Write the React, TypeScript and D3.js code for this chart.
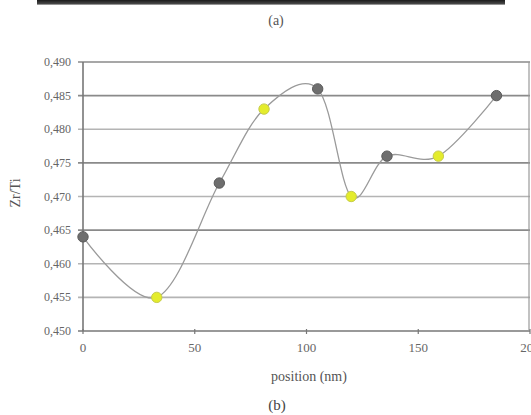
import React from "react";
import * as d3 from "d3";

const positions = [0, 33, 61, 81, 105, 120, 136, 159, 185];
const ratios = [0.464, 0.455, 0.472, 0.483, 0.486, 0.47, 0.476, 0.476, 0.485];
const markerKinds = ["gray", "yellow", "gray", "yellow", "gray", "yellow", "gray", "yellow", "gray"];
const yTicks = [0.45, 0.455, 0.46, 0.465, 0.47, 0.475, 0.48, 0.485, 0.49];
const xTicks = [0, 50, 100, 150, 200];
const xTitle = "position (nm)";
const yTitle = "Zr/Ti";
const captionA = "(a)";
const captionB = "(b)";

const W = 531;
const H = 415;
const m = { left: 83, right: 530, top: 62, bottom: 331 };

export default function App() {
  const x = d3.scaleLinear().domain([0, 200]).range([m.left, m.right]);
  const y = d3.scaleLinear().domain([0.45, 0.49]).range([m.bottom, m.top]);
  const data = positions.map((p, i) => ({ p, r: ratios[i], k: markerKinds[i] }));
  const line = d3
    .line<{ p: number; r: number }>()
    .x((d) => x(d.p))
    .y((d) => y(d.r))
    .curve(d3.curveCatmullRom.alpha(0));
  const fmt = (v: number) => v.toFixed(3).replace(".", ",");
  const gridColor = (i: number) =>
    [0, 3, 5, 7, 8].includes(i) ? "#8a8a8a" : "#b4b4b4";
  const font = "Liberation Serif, Times New Roman, serif";

  return (
    <svg
      width={W}
      height={H}
      style={{ position: "absolute", left: 0, top: 0, background: "#fff" }}
    >
      <defs>
        <linearGradient id="band" x1="0" y1="0" x2="0" y2="1">
          <stop offset="0" stopColor="#1a1a1a" />
          <stop offset="0.7" stopColor="#444" />
          <stop offset="1" stopColor="#bbb" />
        </linearGradient>
      </defs>
      <rect x={37} y={0} width={468} height={5} fill="url(#band)" />
      <text
        x={276}
        y={25}
        fontFamily={font}
        fontSize={14}
        textAnchor="middle"
        fill="#555"
      >
        {captionA}
      </text>

      {yTicks.map((t, i) => (
        <g key={t}>
          <line
            x1={m.left - 5}
            x2={m.right}
            y1={y(t)}
            y2={y(t)}
            stroke={i === 0 ? "#777" : gridColor(i)}
            strokeWidth={1.6}
          />
          <text
            x={71}
            y={y(t) + 4}
            fontFamily={font}
            fontSize={12}
            textAnchor="end"
            fill="#666"
          >
            {fmt(t)}
          </text>
        </g>
      ))}
      <line
        x1={m.left}
        x2={m.left}
        y1={m.top}
        y2={m.bottom}
        stroke="#777"
        strokeWidth={1.6}
      />
      <line
        x1={m.right - 1}
        x2={m.right - 1}
        y1={m.top}
        y2={m.bottom}
        stroke="#999"
        strokeWidth={1.2}
      />
      {xTicks.map((t) => (
        <g key={t}>
          <line
            x1={x(t)}
            x2={x(t)}
            y1={m.bottom - 2}
            y2={m.bottom + 3}
            stroke="#777"
            strokeWidth={1.2}
          />
          <text
            x={x(t)}
            y={352}
            fontFamily={font}
            fontSize={13}
            textAnchor="middle"
            fill="#666"
          >
            {t}
          </text>
        </g>
      ))}
      <text
        x={309}
        y={381}
        fontFamily={font}
        fontSize={14}
        textAnchor="middle"
        fill="#555"
      >
        {xTitle}
      </text>
      <text
        transform={`translate(20,193) rotate(-90)`}
        fontFamily={font}
        fontSize={14}
        textAnchor="middle"
        fill="#555"
      >
        {yTitle}
      </text>
      <text
        x={277}
        y={410}
        fontFamily={font}
        fontSize={15}
        textAnchor="middle"
        fill="#444"
      >
        {captionB}
      </text>

      <path d={line(data) || ""} fill="none" stroke="#9a9a9a" strokeWidth={1.3} />
      {data.map((d, i) => (
        <circle
          key={i}
          cx={x(d.p)}
          cy={y(d.r)}
          r={5.2}
          fill={d.k === "gray" ? "#6e6e6e" : "#e4ec2c"}
          stroke={d.k === "gray" ? "#5a5a5a" : "#c6cc4a"}
          strokeWidth={1}
        />
      ))}
    </svg>
  );
}
